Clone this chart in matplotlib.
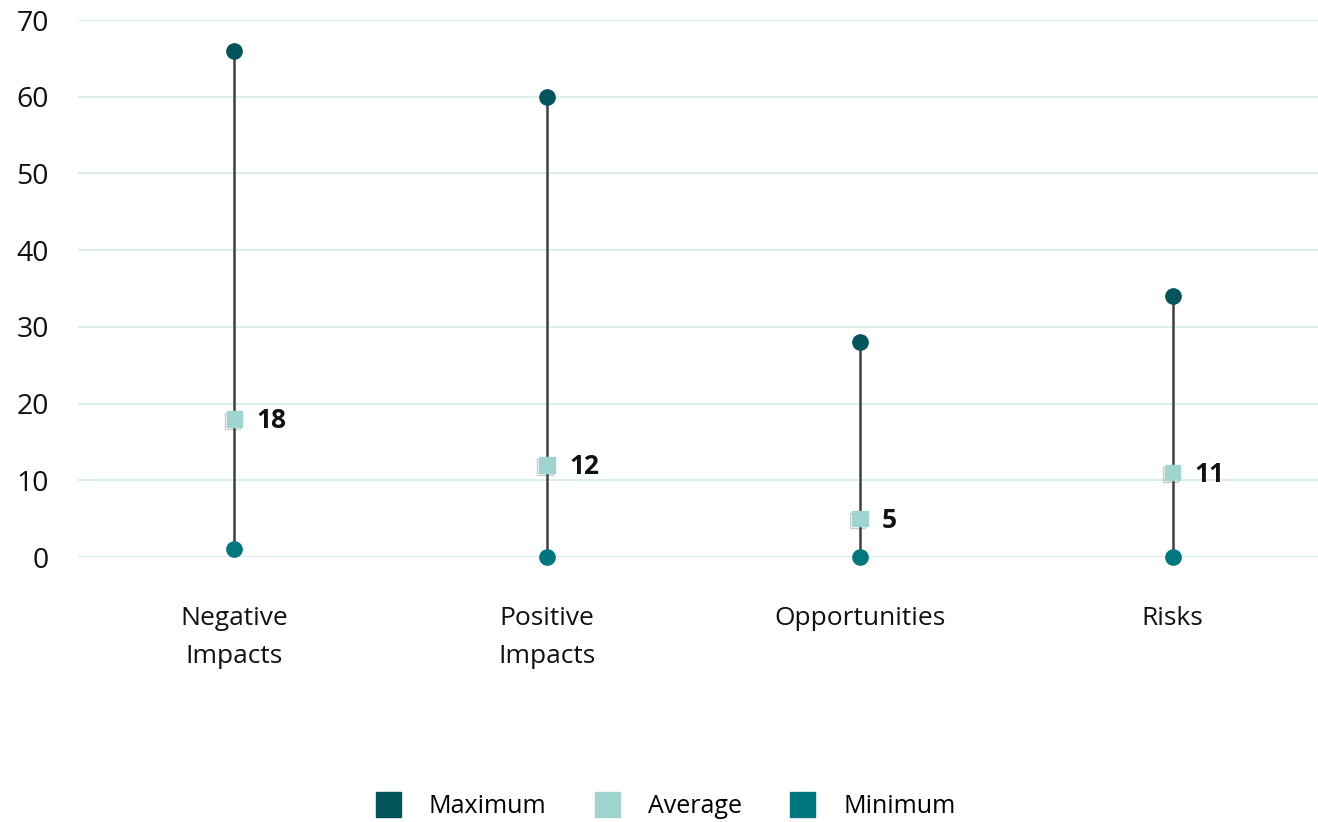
import matplotlib
matplotlib.use("Agg")
import matplotlib.pyplot as plt
import matplotlib.patheffects as pe
from matplotlib.lines import Line2D

categories = ["Negative\nImpacts", "Positive\nImpacts", "Opportunities", "Risks"]
maximum = [66, 60, 28, 34]
average = [18, 12, 5, 11]
minimum = [1, 0, 0, 0]
yticks = [0, 10, 20, 30, 40, 50, 60, 70]

c_max = "#04545C"
c_avg = "#9ED5D0"
c_min = "#00777E"
c_line = "#3F3F3F"
c_grid = "#DCEDEA"

plt.rcParams["font.family"] = ["Open Sans", "DejaVu Sans"]

fig = plt.figure(figsize=(13.18, 8.22), dpi=100)
ax = fig.add_axes([78 / 1318, (822 - 557) / 822, (1329 - 78) / 1318, (557 - 20) / 822])
ax.set_xlim(-0.5, 3.5)
ax.set_ylim(0, 70)

x = list(range(len(categories)))
for xi, lo, hi in zip(x, minimum, maximum):
    ax.plot([xi, xi], [lo, hi], color=c_line, lw=1.8, zorder=2)

ax.plot(x, maximum, "o", color=c_max, ms=11, ls="none", zorder=3)
ax.plot(x, minimum, "o", color=c_min, ms=11, ls="none", zorder=3, clip_on=False)
ax.plot(x, average, "s", color=c_avg, ms=11, ls="none", zorder=4,
        path_effects=[pe.SimpleLineShadow(offset=(-1.5, -1.5), shadow_color="#555555", alpha=0.3),
                      pe.Normal()])

for xi, v in zip(x, average):
    ax.annotate(f"{v}", (xi, v), xytext=(16, -1), textcoords="offset points",
                ha="left", va="center", fontsize=19, fontweight="bold", color="#111111")

ax.set_yticks(yticks)
ax.set_xticks(x)
ax.set_xticklabels(categories, fontsize=19, color="#111111", linespacing=1.7)
ax.tick_params(axis="x", length=0, pad=35)
ax.tick_params(axis="y", length=0, pad=21, labelsize=20.5, labelcolor="#111111")
ax.grid(axis="y", color=c_grid, lw=1.5, zorder=0)
ax.set_axisbelow(True)
for s in ax.spines.values():
    s.set_visible(False)

handles = [Line2D([], [], marker="s", ls="none", color=c, ms=18) for c in (c_max, c_avg, c_min)]
fig.legend(handles, ["Maximum", "Average", "Minimum"], loc="center", bbox_to_anchor=(0.5, 0.019),
           ncol=3, frameon=False, fontsize=18, handletextpad=0.65, columnspacing=1.4)

fig.savefig("out.png", dpi=100, facecolor="white")
